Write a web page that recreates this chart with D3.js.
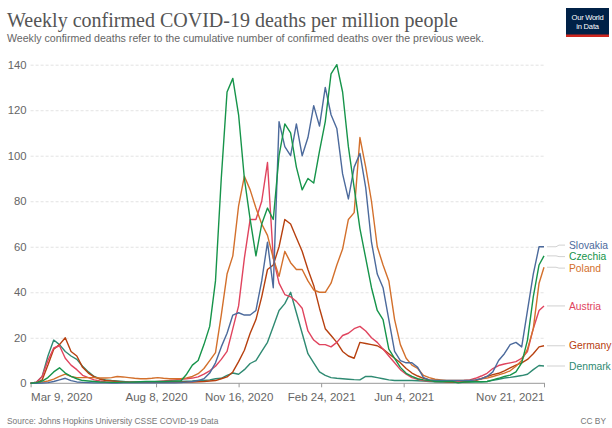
<!DOCTYPE html>
<html>
<head>
<meta charset="utf-8">
<script src="https://cdn.jsdelivr.net/npm/d3@7"></script>
<style>
  html, body { margin: 0; padding: 0; background: #fff; }
  svg { display: block; }
  text { font-family: "Liberation Sans", Arial, sans-serif; }
</style>
</head>
<body>
<svg id="chart" width="612" height="428"></svg>
<script>
// ---------- DATA ----------
const dates = [
  "2020-03-09","2020-03-16","2020-03-23","2020-03-30","2020-04-06","2020-04-13","2020-04-20","2020-04-27",
  "2020-05-04","2020-05-11","2020-05-18","2020-05-25","2020-06-01","2020-06-08","2020-06-15","2020-06-22","2020-06-29",
  "2020-07-06","2020-07-13","2020-07-20","2020-07-27","2020-08-03","2020-08-10","2020-08-17","2020-08-24","2020-08-31",
  "2020-09-07","2020-09-14","2020-09-21","2020-09-28","2020-10-05","2020-10-12","2020-10-19","2020-10-26",
  "2020-11-02","2020-11-09","2020-11-16","2020-11-23","2020-11-30","2020-12-07","2020-12-14","2020-12-21","2020-12-28",
  "2021-01-04","2021-01-11","2021-01-18","2021-01-25","2021-02-01","2021-02-08","2021-02-15","2021-02-22",
  "2021-03-01","2021-03-08","2021-03-15","2021-03-22","2021-03-29","2021-04-05","2021-04-12","2021-04-19","2021-04-26",
  "2021-05-03","2021-05-10","2021-05-17","2021-05-24","2021-05-31","2021-06-07","2021-06-14","2021-06-21","2021-06-28",
  "2021-07-05","2021-07-12","2021-07-19","2021-07-26","2021-08-02","2021-08-09","2021-08-16","2021-08-23","2021-08-30",
  "2021-09-06","2021-09-13","2021-09-20","2021-09-27","2021-10-04","2021-10-11","2021-10-18","2021-10-25",
  "2021-11-01","2021-11-08","2021-11-15","2021-11-21"
];

const slovakia = [
  0,0,0.1,0.3,0.8,1.5,2.2,1.2,0.6,0.4,
  0.3,0.2,0.2,0.2,0.1,0.1,0.2,0.2,0.2,0.2,
  0.2,0.2,0.2,0.2,0.2,0.2,0.3,0.5,0.8,1.2,
  2,4.5,9,16,22,30,31,30,30,32,
  45,62,42,115,104,100,114,100,108,122,
  113,130,118,112,92,81,95,101,86,62,
  48,42,28,14,10,9,9,7,2.5,1.5,
  1.2,1.2,1.2,1.2,1.2,1.2,1.2,1.5,2,3,
  5,10,13,17,18,16,32,48,60,
  60
];
const czechia = [
  0,0.3,1,2.5,5,6.8,4.5,3,2,1.2,
  1,0.8,0.6,0.5,0.4,0.4,0.5,0.5,0.6,0.7,
  0.8,0.8,0.8,0.8,0.9,1,1,4,8,10,
  17,25,45,90,128,134,118,90,72,56,
  70,77,72,100,114,110,95,85,90,88,
  102,115,136,140,128,104,86,68,55,42,
  32,28,15,11,7,4.4,3,2,1.5,1.2,
  0.8,0.8,0.8,0.8,0.2,0.6,0.7,0.7,0.7,0.8,
  1.5,2.2,3,3.6,5,9,19,38,52,
  56
];
const poland = [
  0,0.2,0.5,1,1.8,3,4,3,2.5,2.5,
  2.5,2.5,2.3,2.3,2.5,3,2.8,2.5,2.2,2,
  2,2.2,2.5,2.2,2,2,2,2.4,3,4.2,
  6.5,10,13.5,30,48,56,78,91,85,77,
  70,65,55,47,58,53,50,50,45,41,
  40,40,44,52,59,72,75,108,95,80,
  60,52,45,28,17,11,8,6.5,3.5,2.5,
  1.8,1.5,1.2,1.2,1.2,1.2,1.3,1.5,2,2.3,
  3,3.7,4.5,5.5,7.5,10,15,24,44,
  51
];
const austria = [
  0,0.5,3,10,15.5,16.5,11,8,6,3.5,
  2.5,1.5,1,0.6,0.4,0.4,0.4,0.5,0.5,0.5,
  0.6,0.6,0.8,1,1.2,1.5,1.8,2,2.3,2.8,
  4,5.5,7.5,10.5,14,24,34,55,72,72,
  80,97,55,44,39,38,36,33,23,19,
  17,17,16,18,21,22,24,25,23,20,
  18,15,12,9,6,4,2.5,1.8,1.2,1,
  0.8,0.8,0.8,1,1,1.2,1.5,2.2,3.2,4.4,
  6.5,7.8,8.5,9,9.5,11,14,24,32,
  34
];
const germany = [
  0,0.2,1.5,8,15,17,20,14,12,7,
  4.5,2.8,1.8,1.2,1,0.8,0.6,0.5,0.5,0.5,
  0.5,0.5,0.5,0.5,0.5,0.5,0.5,0.5,0.6,0.7,
  0.8,1,1.2,2,2.8,5,9.5,14.5,22,28,
  38,50,52,60,72,70,64,58,50,43,
  33,24,21,18,14,12,11,18,17.5,17,
  16.5,15,13,11,9,6.5,4.5,3.2,2.2,1.5,
  1.2,1,0.7,0.6,0.6,0.7,0.8,1.2,2,3,
  3.8,4.4,5.5,6.8,8,9,10.5,13,16,
  16.5
];
const denmark = [
  0,0.5,3,12,19,17,14,12,10.5,7.5,
  5,3,2,1.5,1.2,1,0.8,0.6,0.5,0.5,
  0.5,0.5,0.5,0.6,0.7,0.8,0.8,0.9,1,1.2,
  1.2,1.5,2,2.2,3.5,4.5,4,6,8.7,10,
  14,18,25,32,35,40,31,22,13,9,
  5,3.5,2.5,2.2,2,1.8,1.6,1.5,3,3,
  2.5,2,1.5,1.2,1.2,1.2,1.2,1.1,1,0.8,
  0.7,0.6,0.5,0.5,0.5,0.5,0.6,0.7,0.7,0.8,
  1.3,1.8,2.3,2.6,3,3.4,4,6,7.8,
  7.6
];

const seriesNames = ["Slovakia","Czechia","Poland","Austria","Germany","Denmark"];
const seriesValues = [slovakia, czechia, poland, austria, germany, denmark];
const seriesColors = ["#4c6a9c","#16944a","#d3702c","#e0445e","#b7400f","#2f8a72"];

const yTicks = [0,20,40,60,80,100,120,140];
const xTickDates = ["2020-03-09","2020-08-08","2020-11-16","2021-02-24","2021-06-04","2021-11-21"];
const xTickLabels = ["Mar 9, 2020","Aug 8, 2020","Nov 16, 2020","Feb 24, 2021","Jun 4, 2021","Nov 21, 2021"];

const titleText = "Weekly confirmed COVID-19 deaths per million people";
const subtitleText = "Weekly confirmed deaths refer to the cumulative number of confirmed deaths over the previous week.";
const sourceText = "Source: Johns Hopkins University CSSE COVID-19 Data";

// ---------- DRAW ----------
const parse = d3.utcParse("%Y-%m-%d");
const svg = d3.select("#chart");
const W = 612, H = 428;
const plot = { left: 30.6, right: 544, top: 64.7, bottom: 383.3 };

const x = d3.scaleUtc()
  .domain([parse(dates[0]), parse(dates[dates.length - 1])])
  .range([plot.left, plot.right]);
const y = d3.scaleLinear().domain([0, 140]).range([plot.bottom, plot.top]);

// Title
const title = svg.append("text")
  .attr("x", 7).attr("y", 27)
  .style("font-family", "'Liberation Serif', 'DejaVu Serif', serif")
  .style("font-size", "21px")
  .attr("fill", "#555")
  .text(titleText);
{
  const w = title.node().getComputedTextLength();
  title.style("font-size", (21 * 451 / w) + "px");
}
const sub = svg.append("text")
  .attr("x", 7).attr("y", 41.5)
  .style("font-size", "10.5px")
  .attr("fill", "#666")
  .text(subtitleText);
{
  const w = sub.node().getComputedTextLength();
  sub.style("font-size", (10.5 * 477 / w) + "px");
}

// Logo
const logo = svg.append("g");
logo.append("rect").attr("x", 566).attr("y", 8).attr("width", 43).attr("height", 29).attr("fill", "#002147");
logo.append("rect").attr("x", 566).attr("y", 34.5).attr("width", 43).attr("height", 2.5).attr("fill", "#ce261e");
logo.append("text").attr("x", 587.5).attr("y", 19.5).attr("text-anchor", "middle")
  .style("font-size", "7.6px").style("letter-spacing", "-0.3px").attr("fill", "#fff").text("Our World");
logo.append("text").attr("x", 587.5).attr("y", 29).attr("text-anchor", "middle")
  .style("font-size", "7.6px").style("letter-spacing", "-0.2px").attr("fill", "#fff").text("in Data");

// Gridlines + y labels
const yAxis = d3.axisLeft(y).tickValues(yTicks).tickSize(-(plot.right - plot.left)).tickPadding(4);
const gy = svg.append("g").attr("transform", `translate(${plot.left},0)`).call(yAxis);
gy.select(".domain").remove();
gy.selectAll(".tick line")
  .attr("stroke", "#dcdcdc").attr("stroke-dasharray", "3,2")
  .attr("stroke-width", 0.8)
  .filter(d => d === 0).remove();
gy.selectAll(".tick text")
  .attr("fill", "#666").style("font-size", "11.3px")
  .style("font-family", "'Liberation Sans', Arial, sans-serif");

// X axis
const xAxis = d3.axisBottom(x)
  .tickValues(xTickDates.map(parse))
  .tickFormat((d, i) => xTickLabels[i])
  .tickSize(4).tickPadding(6);
const gx = svg.append("g").attr("transform", `translate(0,${plot.bottom})`).call(xAxis);
gx.select(".domain").attr("stroke", "#999").attr("d", `M${plot.left},0H${plot.right + 1}`);
gx.selectAll(".tick line").attr("stroke", "#999");
gx.selectAll(".tick text")
  .attr("fill", "#666").style("font-size", "11.5px")
  .style("font-family", "'Liberation Sans', Arial, sans-serif")
  .attr("text-anchor", (d, i) => i === 0 ? "start" : (i === xTickDates.length - 1 ? "end" : "middle"));

// Lines
const line = d3.line()
  .x((d, i) => x(parse(dates[i])))
  .y(d => y(d));
const drawOrder = [5, 4, 3, 2, 0, 1];
drawOrder.forEach(si => {
  svg.append("path")
    .datum(seriesValues[si])
    .attr("fill", "none")
    .attr("stroke", seriesColors[si])
    .attr("stroke-width", 1.4)
    .attr("stroke-linejoin", "round")
    .attr("d", line);
});

// Legend labels with collision avoidance (cluster centering)
const gap = 11.5;
let labels = seriesNames.map((n, i) => ({
  name: n, color: seriesColors[i],
  target: y(seriesValues[i][seriesValues[i].length - 1])
})).sort((a, b) => a.target - b.target);
let clusters = labels.map(l => ({ items: [l], mean: l.target }));
let changed = true;
while (changed) {
  changed = false;
  for (let i = 0; i < clusters.length - 1; i++) {
    const a = clusters[i], b = clusters[i + 1];
    const aBottom = a.mean + (a.items.length - 1) * gap / 2;
    const bTop = b.mean - (b.items.length - 1) * gap / 2;
    if (bTop - aBottom < gap) {
      const items = a.items.concat(b.items);
      clusters.splice(i, 2, { items, mean: d3.mean(items, d => d.target) });
      changed = true;
      break;
    }
  }
}
clusters.forEach(c => {
  c.items.forEach((it, j) => { it.pos = c.mean + (j - (c.items.length - 1) / 2) * gap; });
});
const lg = svg.append("g");
labels.forEach(l => {
  lg.append("path")
    .attr("d", `M${plot.right + 3},${l.target}H${plot.right + 12}L${plot.right + 15},${l.pos}H${plot.right + 21}`)
    .attr("fill", "none").attr("stroke", "#ccc").attr("stroke-width", 0.9);
  lg.append("text")
    .attr("x", 569).attr("y", l.pos).attr("dy", "0.35em")
    .attr("fill", l.color).style("font-size", "10.3px")
    .text(l.name);
});

// Footer
svg.append("text").attr("x", 7).attr("y", 424)
  .attr("fill", "#777").style("font-size", "8.4px").text(sourceText);
svg.append("text").attr("x", 606).attr("y", 424).attr("text-anchor", "end")
  .attr("fill", "#777").style("font-size", "8.4px").text("CC BY");
</script>
</body>
</html>
